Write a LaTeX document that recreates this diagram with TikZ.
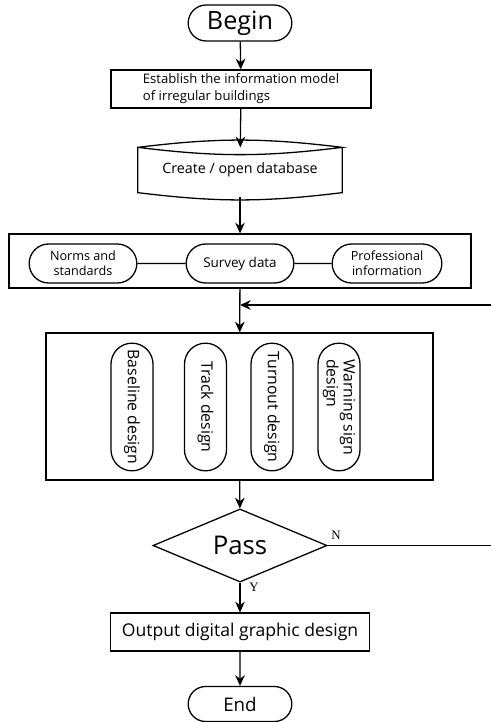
\documentclass[tikz,border=0pt]{standalone}
\usepackage{fontspec}
\setmainfont{Open Sans}
\newfontfamily\ynfont{Liberation Serif}
\usepackage{xcolor}
\usetikzlibrary{shapes.misc,shapes.geometric,arrows.meta}

\begin{document}
\begin{tikzpicture}[x=0.03cm,y=-0.03cm,line width=1.1pt,
  >={Stealth[length=3.2mm,width=2.9mm]},
  pill/.style={rounded rectangle,draw,inner sep=1pt,align=center},
  box/.style={rectangle,draw,inner sep=2pt},
  vpill/.style={rounded rectangle,draw,rotate=-90,minimum width=3.9cm,minimum height=1.26cm,
    inner sep=1pt,font=\fontsize{13.5}{14.5}\selectfont,align=left}]
\useasboundingbox (0,0) rectangle (490,722);

\node (begin)[pill,minimum width=3.18cm,minimum height=1.08cm,font=\fontsize{21.5}{25}\selectfont] at (240,23){Begin};
\node (model)[box,minimum width=7.8cm,minimum height=1.14cm,align=left,font=\fontsize{11.2}{14.5}\selectfont] at (241,89)
  {Establish the information model\\of irregular buildings};
\node (db)[minimum width=6.09cm,minimum height=1.32cm,font=\fontsize{12.2}{14}\selectfont] at (240,170){Create / open database};
\draw (db.north west) to[bend left=7] (db.north east) to[bend left=7] (db.north west)
  -- (db.south west) to[bend right=7] (db.south east) -- (db.north east);
\coordinate (dbbot) at (240,197);

\node (group)[box,minimum width=13.86cm,minimum height=1.62cm] at (240,261){};
\node (norms)[pill,minimum width=3.3cm,minimum height=1.17cm,font=\fontsize{10.8}{13}\selectfont] at (83,263.5){Norms and\\standards};
\node (survey)[pill,minimum width=3.3cm,minimum height=1.17cm,font=\fontsize{11.5}{14}\selectfont] at (240,263.5){Survey data};
\node (prof)[pill,minimum width=3.36cm,minimum height=1.17cm,font=\fontsize{10.8}{13}\selectfont] at (387,263.5){Professional\\information};
\draw (norms) -- (survey);
\draw (survey) -- (prof);

\node (design)[box,minimum width=11.61cm,minimum height=4.41cm] at (239.5,406.5){};
\node (baseline)[vpill] at (132,407){Baseline design};
\node (track)[vpill] at (205.5,407){Track design};
\node (turnout)[vpill] at (272,407){Turnout design};
\node (warning)[vpill] at (339,407){Warning sign\\design};

\node (pass)[diamond,draw,minimum width=5.22cm,minimum height=1.65cm,inner sep=0pt,
  font=\fontsize{22}{25}\selectfont] at (240,545.5){Pass};
\node (N) at (336,535){\ynfont\fontsize{11}{13}\selectfont N};
\node (Y) at (254,587){\ynfont\fontsize{11}{13}\selectfont Y};

\node (output)[box,minimum width=7.77cm,minimum height=1.14cm,font=\fontsize{15}{18}\selectfont] at (240,632)
  {Output digital graphic design};
\node (end)[pill,minimum width=3.18cm,minimum height=1.05cm,font=\fontsize{16}{19}\selectfont] at (240,704){End};

\coordinate (join) at (240,305);
\coordinate (fbN) at (494,545.5);
\coordinate (fbT) at (494,305);

\draw[->] (begin) -- (model);
\draw[->] (model) -- (db);
\draw[->] (dbbot) -- (group);
\draw[->] (group) -- (design);
\draw[->] (pass.east) -- (fbN) -- (fbT) -- (join);
\draw[->] (design) -- (pass);
\draw[->] (pass) -- (output);
\draw[->] (output) -- (end);
\end{tikzpicture}
\end{document}
